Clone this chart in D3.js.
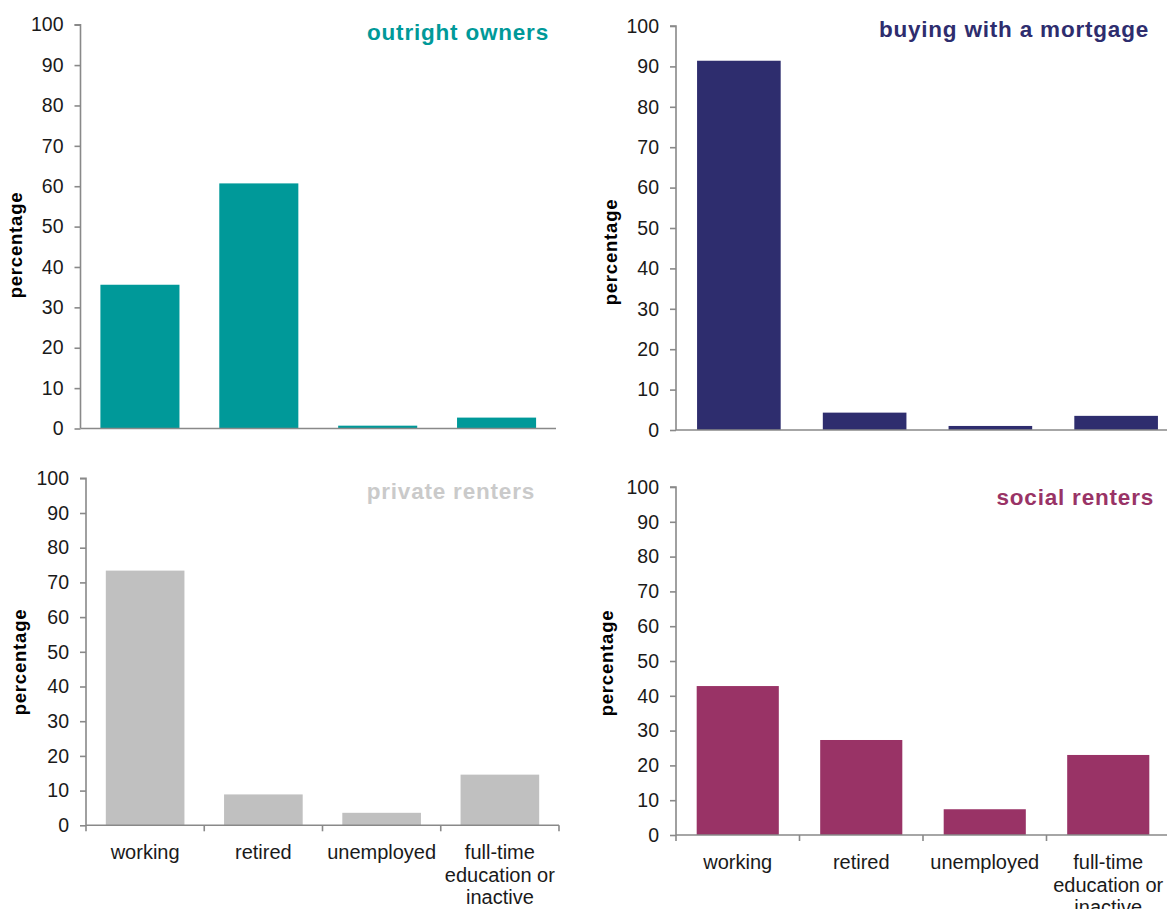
<!DOCTYPE html>
<html>
<head>
<meta charset="utf-8">
<script src="https://cdn.jsdelivr.net/npm/d3@7"></script>
<style>
  html, body { margin: 0; padding: 0; background: #fff; }
  svg { display: block; font-family: "Liberation Sans", Arial, sans-serif; }
</style>
</head>
<body>
<svg id="chart" width="1167" height="909"></svg>
<script>
// ---- data ----
const categories = ["working", "retired", "unemployed", "full-time education or inactive"];
const categoryLines = [["working"], ["retired"], ["unemployed"], ["full-time", "education or", "inactive"]];
const yTicks = [0, 10, 20, 30, 40, 50, 60, 70, 80, 90, 100];
const panelTitles = ["outright owners", "buying with a mortgage", "private renters", "social renters"];
const outrightOwners = [35.6, 60.7, 0.7, 2.7];
const buyingWithMortgage = [91.4, 4.3, 1.0, 3.5];
const privateRenters = [73.4, 8.9, 3.6, 14.6];
const socialRenters = [42.8, 27.3, 7.4, 23.0];
const yAxisLabel = "percentage";

// ---- layout / style ----
const panels = [
  { title: panelTitles[0], values: outrightOwners, color: "#009999", titleColor: "#009999",
    x0: 80.5, x1: 556, yTop: 24.7, yBot: 428.5, titleX: 549, titleY: 40, labX: 22, labY: 245, showCats: false },
  { title: panelTitles[1], values: buyingWithMortgage, color: "#2e2d6e", titleColor: "#2e2d6e",
    x0: 676, x1: 1179, yTop: 26, yBot: 430, titleX: 1149, titleY: 37, labX: 617, labY: 252, showCats: false },
  { title: panelTitles[2], values: privateRenters, color: "#c0c0c0", titleColor: "#cacaca",
    x0: 86, x1: 559, yTop: 478.3, yBot: 825.3, titleX: 535, titleY: 499, labX: 26, labY: 662, showCats: true },
  { title: panelTitles[3], values: socialRenters, color: "#993366", titleColor: "#993366",
    x0: 676, x1: 1170, yTop: 487, yBot: 835, titleX: 1154, titleY: 505, labX: 613, labY: 663, showCats: true }
];

const svg = d3.select("#chart");
const axisColor = "#898989";
const textColor = "#1a1a1a";

panels.forEach(p => {
  const g = svg.append("g");
  const x = d3.scaleBand().domain(categories).range([p.x0, p.x1]).paddingInner(0.335).paddingOuter(0.1675);
  const y = d3.scaleLinear().domain([0, 100]).range([p.yBot, p.yTop]);

  // bars
  g.selectAll("rect.bar").data(categories).enter().append("rect")
    .attr("class", "bar")
    .attr("x", d => x(d))
    .attr("width", x.bandwidth())
    .attr("y", (d, i) => y(p.values[i]))
    .attr("height", (d, i) => y(0) - y(p.values[i]))
    .attr("fill", p.color);

  // y axis
  const yAxis = d3.axisLeft(y).tickValues(yTicks).tickSize(6).tickPadding(11).tickFormat(d3.format("d"));
  const ya = g.append("g").attr("transform", `translate(${p.x0},0)`).call(yAxis);
  ya.select(".domain").attr("stroke", axisColor).attr("stroke-width", 1.6).attr("d", `M-6,${p.yTop}H0V${p.yBot}`);
  ya.selectAll(".tick line").attr("stroke", axisColor).attr("stroke-width", 1.6);
  ya.selectAll(".tick text").attr("fill", textColor).style("font-size", "19.5px")
    .style("font-family", "'Liberation Sans', Arial, sans-serif");

  // x axis
  const xa = g.append("g").attr("transform", `translate(0,${p.yBot})`);
  xa.append("line").attr("x1", p.x0).attr("x2", p.x1).attr("y1", 0).attr("y2", 0)
    .attr("stroke", axisColor).attr("stroke-width", 1.6);
  if (p.showCats) {
    const step = x.step();
    const bounds = categories.map(c => x(c) - x.paddingInner() * step / 2).concat([p.x1]);
    bounds[0] = p.x0;
    xa.selectAll("line.xt").data(bounds).enter().append("line").attr("class", "xt")
      .attr("x1", d => d).attr("x2", d => d).attr("y1", 0).attr("y2", 6)
      .attr("stroke", axisColor).attr("stroke-width", 1.6);
    const labels = xa.selectAll("text.cat").data(categories).enter().append("text")
      .attr("class", "cat")
      .attr("x", d => x(d) + x.bandwidth() / 2)
      .attr("y", 34)
      .attr("text-anchor", "middle")
      .attr("fill", textColor)
      .style("font-size", "20px");
    labels.each(function(d, i) {
      const t = d3.select(this);
      categoryLines[i].forEach((ln, j) => {
        t.append("tspan").attr("x", x(d) + x.bandwidth() / 2).attr("dy", j === 0 ? 0 : 22.5).text(ln);
      });
    });
  }

  // y-axis label
  g.append("text")
    .attr("transform", `translate(${p.labX},${p.labY}) rotate(-90)`)
    .attr("text-anchor", "middle")
    .attr("fill", "#000")
    .style("font-size", "18.5px")
    .style("font-weight", "bold")
    .style("letter-spacing", "0.8px")
    .text(yAxisLabel);

  // panel title
  g.append("text")
    .attr("x", p.titleX)
    .attr("y", p.titleY)
    .attr("text-anchor", "end")
    .attr("fill", p.titleColor)
    .style("font-size", "22.5px")
    .style("font-weight", "bold")
    .style("letter-spacing", "0.8px")
    .text(p.title);
});
</script>
</body>
</html>
